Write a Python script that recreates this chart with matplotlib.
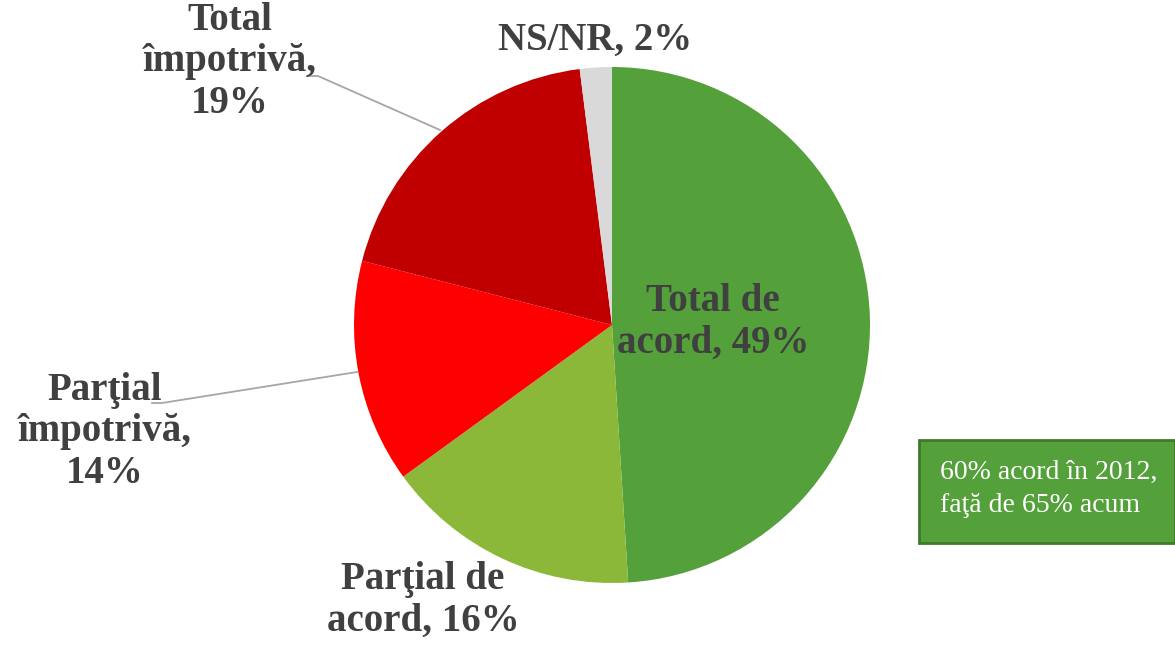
import matplotlib
matplotlib.use("Agg")
import matplotlib.pyplot as plt
from matplotlib.patches import Rectangle

labels = ["Total de\nacord, 49%", "Parţial de\nacord, 16%", "Parţial\nîmpotrivă,\n14%",
          "Total\nîmpotrivă,\n19%", "NS/NR, 2%"]
values = [49, 16, 14, 19, 2]
colors = ["#54A03A", "#8CB83A", "#FF0000", "#C00000", "#D9D9D9"]
note = "60% acord în 2012,\nfaţă de 65% acum"

W, H = 1175, 645
fig = plt.figure(figsize=(W / 100, H / 100), dpi=100)
cx, cy, r = 612, 325, 258
ax = fig.add_axes([(cx - r) / W, (H - cy - r) / H, 2 * r / W, 2 * r / H])
ax.pie(values, colors=colors, startangle=90, counterclock=False, radius=1,
       wedgeprops=dict(linewidth=0))
ax.set_xlim(-1, 1)
ax.set_ylim(-1, 1)
ax.set_aspect("equal")
ax.axis("off")

def px(x, y):
    return ((x - cx) / r, (cy - y) / r)

font = dict(family="Liberation Serif", fontweight="bold", fontsize=28, color="#404040",
            ha="center", va="center", linespacing=1.17)

pos = [px(713, 322), px(423, 600), px(105, 432), px(230, 62), px(595, 40)]
for lab, p in zip(labels, pos):
    ax.text(p[0], p[1], lab, clip_on=False, **font)

# leader lines
for pts in ([(307, 76), (318, 76), (440, 130)], [(152, 403), (162, 403), (357, 372)]):
    xs, ys = zip(*[px(*q) for q in pts])
    ax.plot(xs, ys, color="#A6A6A6", lw=1.3, clip_on=False)

# note box
fig.patches.append(Rectangle((919 / W, (H - 543) / H), (1175 - 919) / W, (543 - 440) / H,
                             transform=fig.transFigure, facecolor="#54A03A",
                             edgecolor="#3F7A2B", linewidth=2))
fig.text(940 / W, (H - 489) / H, note, family="Liberation Serif", fontsize=20,
         color="white", ha="left", va="center", linespacing=1.4)

fig.savefig("out.png", dpi=100)
